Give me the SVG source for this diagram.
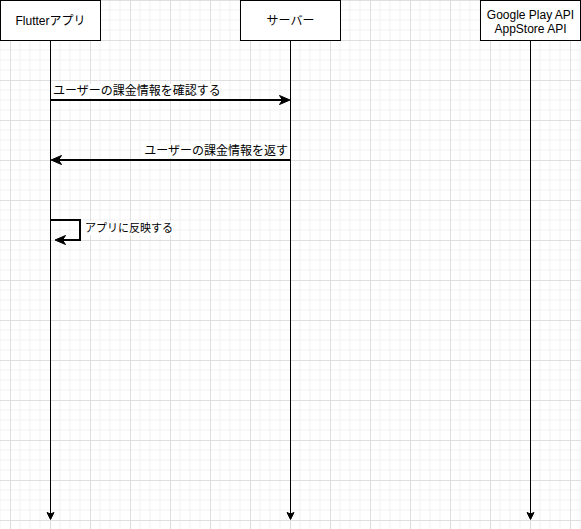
<svg xmlns="http://www.w3.org/2000/svg" width="581" height="529" viewBox="0 0 581 529">
  <defs>
    <pattern id="grid" x="10" y="0" width="40" height="40" patternUnits="userSpaceOnUse">
      <path d="M10,0V40M20,0V40M30,0V40M0,10H40M0,20H40M0,30H40" stroke="#f1f1f1" stroke-width="1" fill="none"/>
      <path d="M0.5,0V40M0,0.5H40" stroke="#dfdfdf" stroke-width="1" fill="none"/>
    </pattern>
    <style>
      .box { fill: #ffffff; stroke: #000000; stroke-width: 1; }
      .title { font-family: "Liberation Sans", "Noto Sans CJK JP", sans-serif; font-size: 12px; fill: #000000; text-anchor: middle; }
      .lbl { font-family: "Liberation Sans", "Noto Sans CJK JP", sans-serif; font-size: 12px; fill: #000000; }
      .lbl-s { font-family: "Liberation Sans", "Noto Sans CJK JP", sans-serif; font-size: 11px; fill: #000000; }
      .life { stroke: #000000; stroke-width: 1; fill: none; }
      .msg { stroke: #000000; stroke-width: 2; fill: none; }
      .head { fill: #000000; stroke: #000000; stroke-width: 1; stroke-linejoin: miter; }
      .bg { fill: #ffffff; }
    </style>
  </defs>
  <rect x="0" y="0" width="581" height="529" fill="#ffffff"/>
  <rect x="0" y="0" width="581" height="529" fill="url(#grid)" transform="translate(0,0)"/>

  <g id="connectors">
    <!-- lifelines -->
    <line class="life" x1="50.5" y1="40" x2="50.5" y2="514"/>
    <path class="head" d="M50.5,519.5 L47,512.5 L50.5,514 L54,512.5 Z"/>
    <line class="life" x1="290.5" y1="40" x2="290.5" y2="514"/>
    <path class="head" d="M290.5,519.5 L287,512.5 L290.5,514 L294,512.5 Z"/>
    <line class="life" x1="530.5" y1="40" x2="530.5" y2="514"/>
    <path class="head" d="M530.5,519.5 L527,512.5 L530.5,514 L534,512.5 Z"/>

    <!-- message 1 -->
    <line class="msg" x1="50.5" y1="100" x2="283" y2="100"/>
    <path class="head" d="M290,100 L279.5,95.5 L282.5,100 L279.5,104.5 Z"/>
    <rect class="bg" x="52" y="84" width="168" height="14"/>
    <text class="lbl" x="53" y="95">ユーザーの課金情報を確認する</text>

    <!-- message 2 -->
    <line class="msg" x1="290.5" y1="160" x2="58" y2="160"/>
    <path class="head" d="M51,160 L61.5,155.5 L58.5,160 L61.5,164.5 Z"/>
    <rect class="bg" x="142" y="144" width="147" height="14"/>
    <text class="lbl" x="288" y="155" text-anchor="end">ユーザーの課金情報を返す</text>

    <!-- self message -->
    <path class="msg" d="M50.5,220 H80 V240 H62"/>
    <path class="head" d="M55,240 L65.5,235.5 L62.5,240 L65.5,244.5 Z"/>
    <rect class="bg" x="83" y="221" width="89" height="14"/>
    <text class="lbl-s" x="85" y="232">アプリに反映する</text>
  </g>

  <g id="node-flutter">
    <rect class="box" x="0.5" y="0.5" width="100" height="40"/>
    <text class="title" x="50.5" y="24.5">Flutterアプリ</text>
  </g>
  <g id="node-server">
    <rect class="box" x="240.5" y="0.5" width="100" height="40"/>
    <text class="title" x="290.5" y="24.5">サーバー</text>
  </g>
  <g id="node-api">
    <rect class="box" x="480.5" y="0.5" width="100" height="40"/>
    <text class="title" x="530.5" y="19">Google Play API</text>
    <text class="title" x="530.5" y="32.5">AppStore API</text>
  </g>
</svg>
